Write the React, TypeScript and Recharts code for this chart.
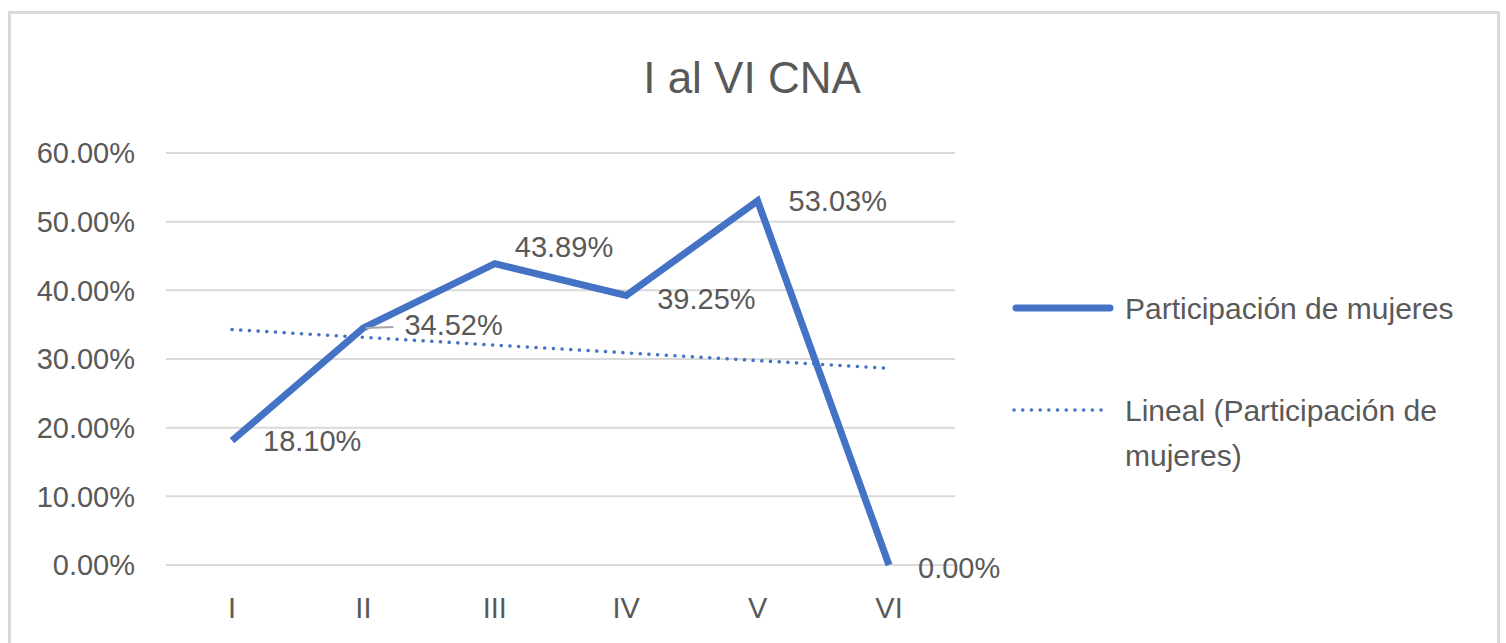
import { LineChart, Line, XAxis, YAxis, CartesianGrid, LabelList } from "recharts"

const categories = ["I", "II", "III", "IV", "V", "VI"]
const participacion = [18.1, 34.52, 43.89, 39.25, 53.03, 0.0]
// linear trend read at the two ends, the rest left empty
const tendencia = [34.29, null, null, null, null, 28.64]
const yTicks = [0, 10, 20, 30, 40, 50, 60]

const data = categories.map((c, i) => ({
  name: c,
  value: participacion[i],
  trend: tendencia[i],
}))

const BLUE = "#4472C4"
const TEXT = "#595959"
const FONT = "'Liberation Sans', Arial, sans-serif"

// label shifts from the point (Excel "right" position, with two moved by hand)
const labelShift = [
  { dx: 31, dy: 0 },
  { dx: 41, dy: -3 },
  { dx: 20, dy: -17 },
  { dx: 31, dy: 3 },
  { dx: 31, dy: 0 },
  { dx: 29, dy: 3 },
]

const renderLabel = (props: any) => {
  const { x, y, value, index } = props
  const s = labelShift[index] || { dx: 31, dy: 0 }
  return (
    <g>
      {index === 1 && (
        <line x1={x + 2} y1={y} x2={x + 30} y2={y - 1} stroke="#A6A6A6" strokeWidth={2} />
      )}
      <text
        x={x + s.dx}
        y={y + s.dy}
        dy="0.355em"
        fill={TEXT}
        fontSize={29}
        fontFamily={FONT}
      >
        {Number(value).toFixed(2)}%
      </text>
    </g>
  )
}

const LegendBox = () => (
  <svg width={490} height={200} style={{ position: "absolute", left: 1000, top: 280 }}>
    <line x1={16} y1={28} x2={110} y2={28} stroke={BLUE} strokeWidth={7} strokeLinecap="round" />
    <text x={125} y={28} dy="0.355em" fill={TEXT} fontSize={30} fontFamily={FONT}>
      Participación de mujeres
    </text>
    <line
      x1={14}
      y1={130}
      x2={106}
      y2={130}
      stroke={BLUE}
      strokeWidth={3.5}
      strokeDasharray="0.1 8.6"
      strokeLinecap="round"
    />
    <text x={125} y={130} dy="0.355em" fill={TEXT} fontSize={30} fontFamily={FONT}>
      Lineal (Participación de
    </text>
    <text x={125} y={175} dy="0.355em" fill={TEXT} fontSize={30} fontFamily={FONT}>
      mujeres)
    </text>
  </svg>
)

export default function App() {
  return (
    <div
      style={{
        position: "fixed",
        left: 0,
        top: 0,
        width: 1506,
        height: 643,
        overflow: "hidden",
        background: "#fff",
        fontFamily: FONT,
      }}
    >
      <div
        style={{
          position: "absolute",
          left: 8,
          top: 11,
          width: 1492,
          height: 700,
          border: "3px solid #D9D9D9",
          boxSizing: "border-box",
        }}
      />
      <div
        style={{
          position: "absolute",
          left: 752,
          top: 50,
          transform: "translateX(-50%)",
          whiteSpace: "nowrap",
          fontSize: 44,
          color: TEXT,
          lineHeight: "56px",
        }}
      >
        I al VI CNA
      </div>
      <div style={{ position: "absolute", left: 0, top: 0 }}>
        <LineChart
          width={1506}
          height={643}
          data={data}
          margin={{ top: 153, right: 551, bottom: 0, left: 0 }}
        >
          <CartesianGrid vertical={false} stroke="#D9D9D9" strokeWidth={2} />
          <XAxis
            dataKey="name"
            height={78}
            axisLine={false}
            tickLine={false}
            tickSize={0}
            tickMargin={32}
            interval={0}
            tick={{ fill: TEXT, fontSize: 29, fontFamily: FONT }}
            padding={{ left: 66, right: 66 }}
          />
          <YAxis
            width={166}
            domain={[0, 60]}
            ticks={yTicks}
            interval={0}
            axisLine={false}
            tickLine={false}
            tickSize={0}
            tickMargin={31}
            tickFormatter={(v: number) => v.toFixed(2) + "%"}
            tick={{ fill: TEXT, fontSize: 29, fontFamily: FONT }}
          />
          <Line
            dataKey="trend"
            name="Lineal (Participación de mujeres)"
            stroke={BLUE}
            strokeWidth={3.5}
            strokeDasharray="0.1 8.6"
            strokeLinecap="round"
            dot={false}
            activeDot={false}
            connectNulls
            isAnimationActive={false}
          />
          <Line
            dataKey="value"
            name="Participación de mujeres"
            stroke={BLUE}
            strokeWidth={7}
            strokeLinejoin="miter"
            dot={false}
            activeDot={false}
            isAnimationActive={false}
          >
            <LabelList dataKey="value" content={renderLabel} />
          </Line>
        </LineChart>
      </div>
      <LegendBox />
    </div>
  )
}
